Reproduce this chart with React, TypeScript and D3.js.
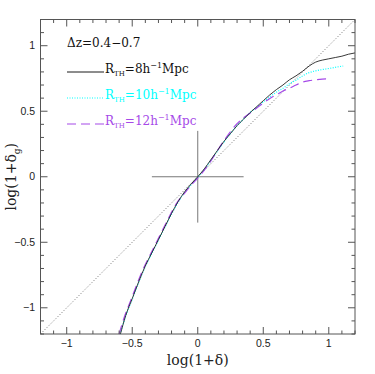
import React from "react";
import * as d3 from "d3";

// log(1+delta) vs log(1+delta_g), three smoothing radii
const xBlack = [-0.59, -0.55, -0.5, -0.45, -0.4, -0.35, -0.3, -0.25, -0.2, -0.15, -0.1, -0.05, 0, 0.05, 0.1, 0.15, 0.2, 0.25, 0.3, 0.35, 0.4, 0.45, 0.5, 0.55, 0.6, 0.65, 0.7, 0.75, 0.8, 0.85, 0.9, 0.95, 1.0, 1.05, 1.1, 1.15, 1.2];
const yBlack = [-1.2, -1.06, -0.93, -0.8, -0.68, -0.58, -0.48, -0.38, -0.28, -0.19, -0.115, -0.055, 0, 0.06, 0.13, 0.2, 0.27, 0.33, 0.39, 0.44, 0.49, 0.535, 0.58, 0.625, 0.665, 0.7, 0.74, 0.77, 0.805, 0.845, 0.875, 0.89, 0.9, 0.91, 0.92, 0.935, 0.945];

const xCyan = [-0.592, -0.55, -0.5, -0.45, -0.4, -0.35, -0.3, -0.25, -0.2, -0.15, -0.1, -0.05, 0, 0.05, 0.1, 0.15, 0.2, 0.25, 0.3, 0.35, 0.4, 0.45, 0.5, 0.55, 0.6, 0.65, 0.7, 0.75, 0.8, 0.85, 0.9, 0.95, 1.0, 1.05, 1.11];
const yCyan = [-1.2, -1.065, -0.935, -0.805, -0.685, -0.585, -0.485, -0.385, -0.285, -0.195, -0.12, -0.06, -0.005, 0.055, 0.125, 0.195, 0.265, 0.33, 0.39, 0.44, 0.49, 0.53, 0.57, 0.61, 0.645, 0.675, 0.71, 0.737, 0.77, 0.795, 0.808, 0.818, 0.826, 0.835, 0.845];

const xMagenta = [-0.6, -0.56, -0.51, -0.46, -0.41, -0.36, -0.31, -0.26, -0.21, -0.16, -0.1, -0.05, 0, 0.05, 0.1, 0.15, 0.2, 0.25, 0.3, 0.35, 0.4, 0.45, 0.5, 0.55, 0.6, 0.65, 0.7, 0.75, 0.8, 0.85, 0.9, 0.95, 1.0];
const yMagenta = [-1.2, -1.07, -0.94, -0.81, -0.69, -0.59, -0.49, -0.39, -0.29, -0.2, -0.125, -0.065, -0.01, 0.05, 0.12, 0.2, 0.275, 0.345, 0.405, 0.45, 0.487, 0.525, 0.563, 0.598, 0.625, 0.655, 0.675, 0.7, 0.722, 0.733, 0.74, 0.745, 0.747];

const majorTicks = [-1, -0.5, 0, 0.5, 1];
const tickLabels = ["\u22121", "\u22120.5", "0", "0.5", "1"];
const minorTicks = d3.range(-12, 13).map((d) => d / 10);

const legendRows = [
  { color: "#000000", dash: "none", radius: "8" },
  { color: "#00ffff", dash: "1,1.5", radius: "10" },
  { color: "#a64ae8", dash: "9,5", radius: "12" },
];

const App = () => {
  const margin = { top: 19.5, right: 20, bottom: 40, left: 40.5 };
  const width = 375;
  const height = 374;

  const x = d3.scaleLinear().domain([-1.2, 1.2]).range([margin.left, 355]);
  const y = d3.scaleLinear().domain([-1.2, 1.2]).range([334, margin.top]);

  const line = (xs: number[], ys: number[]) =>
    d3
      .line<number>()
      .x((d) => x(d))
      .y((_, i) => y(ys[i]))
      .curve(d3.curveMonotoneX)(xs) || "";

  const serif = "'DejaVu Serif', 'Liberation Serif', serif";
  const sans = "'Liberation Sans', Arial, sans-serif";
  const frameColor = "#555";

  return (
    <svg width={width} height={height} style={{ position: "absolute", left: 0, top: 0 }}>
      {/* diagonal y = x */}
      <line x1={x(-1.2)} y1={y(-1.2)} x2={x(1.2)} y2={y(1.2)} stroke="#444" strokeWidth={0.8} strokeDasharray="1,2" />

      {/* cross at origin */}
      <line x1={x(-0.35)} y1={y(0)} x2={x(0.35)} y2={y(0)} stroke="#777" strokeWidth={1} />
      <line x1={x(0)} y1={y(0.35)} x2={x(0)} y2={y(-0.35)} stroke="#777" strokeWidth={1} />

      {/* curves */}
      <path d={line(xCyan, yCyan)} fill="none" stroke="#00ffff" strokeWidth={1.2} strokeDasharray="1,1.5" />
      <path d={line(xMagenta, yMagenta)} fill="none" stroke="#a64ae8" strokeWidth={1.2} strokeDasharray="9,5" />
      <path d={line(xBlack, yBlack)} fill="none" stroke="#222" strokeWidth={0.9} />

      {/* frame */}
      <rect x={x(-1.2)} y={y(1.2)} width={x(1.2) - x(-1.2)} height={y(-1.2) - y(1.2)} fill="none" stroke={frameColor} strokeWidth={1} />

      {/* ticks on all four sides */}
      {minorTicks.map((t) => {
        const major = majorTicks.some((m) => Math.abs(m - t) < 1e-6);
        const len = major ? 7 : 3.5;
        return (
          <g key={t} stroke={frameColor} strokeWidth={1}>
            <line x1={x(t)} x2={x(t)} y1={y(-1.2)} y2={y(-1.2) - len} />
            <line x1={x(t)} x2={x(t)} y1={y(1.2)} y2={y(1.2) + len} />
            <line y1={y(t)} y2={y(t)} x1={x(-1.2)} x2={x(-1.2) + len} />
            <line y1={y(t)} y2={y(t)} x1={x(1.2)} x2={x(1.2) - len} />
          </g>
        );
      })}

      {/* tick labels */}
      {majorTicks.map((t, i) => (
        <text key={"xl" + t} x={x(t)} y={346.5} textAnchor="middle" fontFamily={sans} fontSize={10.5} fill="#222">
          {tickLabels[i]}
        </text>
      ))}
      {majorTicks.map((t, i) => (
        <text key={"yl" + t} x={35} y={y(t) + 3.5} textAnchor="end" fontFamily={sans} fontSize={10.5} fill="#222">
          {tickLabels[i]}
        </text>
      ))}

      {/* axis titles */}
      <text x={x(0)} y={365} textAnchor="middle" fontFamily={serif} fontSize={14} fill="#222">
        log(1+δ)
      </text>
      <text transform={`translate(16,${y(0)}) rotate(-90)`} textAnchor="middle" fontFamily={serif} fontSize={14} fill="#222">
        log(1+δ<tspan fontSize={9} dy={4}>g</tspan>
        <tspan dy={-4}>)</tspan>
      </text>

      {/* legend */}
      <text x={67} y={47} fontFamily={serif} fontSize={12} fill="#111">
        Δz=0.4−0.7
      </text>
      {legendRows.map((r, i) => {
        const ly = 72 + i * 26;
        return (
          <g key={r.radius}>
            <line x1={67} x2={104} y1={ly} y2={ly} stroke={r.color} strokeWidth={r.dash === "none" ? 0.9 : 1.2} strokeDasharray={r.dash} />
            <text x={105} y={ly + 1} fontFamily={serif} fontSize={12} fill={r.color === "#000000" ? "#111" : r.color}>
              R<tspan fontSize={7} dy={3}>TH</tspan>
              <tspan dy={-3}>={r.radius}h</tspan>
              <tspan fontSize={8} dy={-5}>−1</tspan>
              <tspan dy={5}>Mpc</tspan>
            </text>
          </g>
        );
      })}
    </svg>
  );
};

export default App;
